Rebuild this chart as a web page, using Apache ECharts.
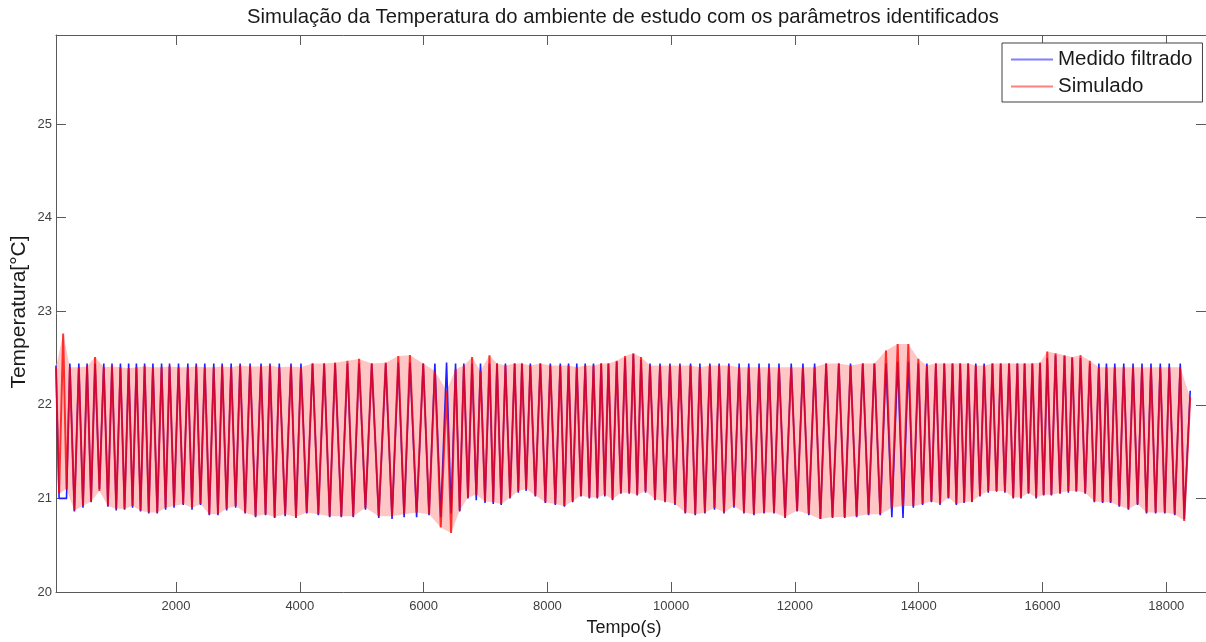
<!DOCTYPE html>
<html>
<head>
<meta charset="utf-8">
<script src="https://cdn.jsdelivr.net/npm/echarts@6/dist/echarts.min.js"></script>
<style>html,body{margin:0;padding:0;background:#fff}#c{width:1206px;height:642px}</style>
</head>
<body>
<div id="c"></div>
<script>
// ---- data ----
const xTicks = [2000, 4000, 6000, 8000, 10000, 12000, 14000, 16000, 18000];
const yTicks = [20, 21, 22, 23, 24, 25];
const startT = 60;
const endT = 18387;
const peakT = [176,284,429,562,691,832,965,1101,1234,1359,
1492,1626,1766,1895,2040,2190,2326,2464,2609,2745,
2890,3035,3196,3373,3518,3668,3857,4018,4205,4393,
4570,4769,4957,5162,5388,5591,5779,5994,6182,6371,
6516,6650,6783,6919,7064,7186,7322,7471,7589,7724,
7886,8047,8208,8342,8475,8611,8745,8869,8986,9120,
9255,9389,9513,9658,9820,9981,10142,10313,10464,10625,
10775,10932,11098,11254,11420,11581,11742,11940,12129,12318,
12504,12709,12898,13096,13284,13471,13660,13832,13994,14132,
14277,14413,14546,14670,14799,14922,15057,15191,15325,15460,
15594,15711,15836,15960,16077,16211,16356,16480,16614,16765,
16911,17033,17168,17313,17463,17608,17753,17903,18048,18226];
const troughT = [110,
230,357,496,627,762,899,1033,1168,1297,1426,
1559,1696,1831,1968,2115,2258,2395,2537,2677,2818,
2963,3116,3285,3446,3593,3763,3938,4112,4299,4482,
4670,4863,5060,5275,5490,5685,5887,6088,6277,6444,
6583,6717,6851,6992,7125,7254,7397,7530,7657,7805,
7967,8128,8275,8409,8543,8678,8807,8928,9053,9188,
9322,9451,9586,9739,9901,10062,10228,10389,10545,10700,
10854,11015,11176,11337,11501,11662,11841,12035,12224,12411,
12607,12804,12997,13190,13378,13566,13746,13913,14063,14205,
14345,14480,14608,14735,14861,14990,15124,15258,15393,15527,
15653,15774,15898,16019,16144,16284,16418,16547,16690,16838,
16972,17101,17241,17388,17536,17681,17828,17976,18137,18290];

// Medido filtrado (blue)
const medStart = 22.42, medEnd = 22.15;
const medPeaks = [21.00,22.44,22.44,22.44,22.44,22.44,22.44,22.44,22.44,22.44,
22.44,22.44,22.44,22.44,22.44,22.44,22.44,22.44,22.44,22.44,
22.44,22.44,22.44,22.44,22.44,22.44,22.44,22.44,22.44,22.44,
22.44,22.44,22.44,22.44,22.44,22.45,22.45,22.44,22.44,22.45,
22.44,22.44,22.44,22.44,22.44,22.44,22.44,22.44,22.44,22.44,
22.44,22.44,22.44,22.44,22.44,22.44,22.44,22.44,22.44,22.46,
22.50,22.54,22.48,22.44,22.44,22.44,22.44,22.44,22.44,22.44,
22.44,22.44,22.44,22.44,22.44,22.44,22.44,22.44,22.44,22.44,
22.44,22.44,22.44,22.44,22.44,22.44,22.46,22.46,22.44,22.44,
22.44,22.44,22.44,22.44,22.44,22.44,22.44,22.44,22.44,22.44,
22.44,22.44,22.44,22.44,22.50,22.53,22.52,22.50,22.50,22.44,
22.44,22.44,22.44,22.44,22.44,22.44,22.44,22.44,22.44,22.44];
const medTroughs = [21.00,
21.00,20.86,20.90,20.96,21.10,20.91,20.87,20.88,20.90,20.86,
20.84,20.84,20.88,20.90,20.93,20.88,20.93,20.82,20.82,20.87,
20.90,20.84,20.80,20.82,20.79,20.81,20.79,20.84,20.82,20.80,
20.80,20.80,20.88,20.79,20.78,20.80,20.80,20.82,20.80,20.84,
20.86,21.00,20.98,20.95,20.94,20.93,21.00,21.06,21.08,21.02,
20.95,20.93,20.91,20.96,21.02,21.00,21.00,21.02,20.98,21.05,
21.05,21.03,21.06,20.98,20.96,20.93,20.84,20.82,20.84,20.88,
20.84,20.90,20.84,20.82,20.84,20.84,20.79,20.86,20.82,20.78,
20.79,20.79,20.80,20.82,20.82,20.80,20.79,20.90,20.93,20.96,
20.93,21.00,20.93,20.95,20.96,21.02,21.06,21.07,21.06,21.00,
21.00,21.05,21.00,21.03,21.03,21.05,21.06,21.07,21.05,20.96,
20.95,20.95,20.91,20.88,20.93,20.84,20.84,20.84,20.82,20.78];

// Simulado (red)
const simStart = 22.40, simEnd = 22.08;
const simPeaks = [22.76,22.40,22.40,22.41,22.51,22.40,22.41,22.40,22.39,22.40,
22.41,22.40,22.40,22.41,22.40,22.40,22.41,22.40,22.40,22.41,
22.40,22.42,22.41,22.41,22.42,22.40,22.41,22.40,22.44,22.44,
22.45,22.47,22.49,22.44,22.45,22.52,22.53,22.44,22.36,22.15,
22.38,22.42,22.51,22.36,22.53,22.44,22.42,22.44,22.44,22.42,
22.44,22.42,22.42,22.42,22.40,22.42,22.42,22.44,22.44,22.47,
22.52,22.55,22.51,22.42,22.42,22.42,22.42,22.42,22.40,22.42,
22.42,22.42,22.40,22.40,22.40,22.40,22.40,22.40,22.40,22.40,
22.44,22.44,22.42,22.44,22.44,22.58,22.65,22.65,22.49,22.42,
22.44,22.44,22.44,22.44,22.44,22.42,22.42,22.44,22.44,22.44,
22.44,22.44,22.44,22.45,22.57,22.55,22.53,22.51,22.53,22.47,
22.40,22.40,22.40,22.40,22.40,22.40,22.40,22.40,22.40,22.40];
const simTroughs = [21.05,
21.10,20.87,20.92,20.97,21.08,20.92,20.89,20.89,20.92,20.87,
20.85,20.85,20.90,20.92,20.94,20.90,20.94,20.83,20.83,20.89,
20.92,20.85,20.81,20.83,20.80,20.83,20.80,20.85,20.83,20.81,
20.81,20.81,20.90,20.81,20.81,20.83,20.85,20.83,20.69,20.63,
20.87,21.01,21.04,20.97,20.96,20.94,21.01,21.08,21.10,21.03,
20.96,20.94,20.92,20.97,21.03,21.01,21.01,21.04,20.99,21.06,
21.06,21.04,21.08,20.99,20.97,20.94,20.85,20.83,20.85,20.90,
20.85,20.92,20.85,20.83,20.85,20.85,20.80,20.87,20.83,20.78,
20.80,20.80,20.81,20.83,20.83,20.90,20.92,20.92,20.94,20.97,
20.94,21.01,20.94,20.96,20.97,21.03,21.08,21.08,21.08,21.01,
21.01,21.06,21.01,21.04,21.04,21.06,21.08,21.08,21.06,20.97,
20.96,20.96,20.92,20.89,20.94,20.85,20.85,20.85,20.83,20.76];

// ---- build series from the arrays ----
function build(startV, peaks, troughs, endV) {
  const d = [[startT, startV]];
  for (let i = 0; i < peakT.length; i++) {
    d.push([troughT[i], troughs[i]]);
    d.push([peakT[i], peaks[i]]);
  }
  d.push([troughT[peakT.length], troughs[peakT.length]]);
  d.push([endT, endV]);
  return d;
}
const medData = build(medStart, medPeaks, medTroughs, medEnd);
const simData = build(simStart, simPeaks, simTroughs, simEnd);

const FONT = '"Liberation Sans", Arial, Helvetica, sans-serif';
const AX = '#5a5a5a';
const chart = echarts.init(document.getElementById('c'), null, {renderer: 'canvas'});
const plain = function (v) { return String(v); };
const xBase = {
  type: 'value', min: 60, max: 18642,
  splitLine: {show: false},
  axisLine: {show: true, onZero: false, lineStyle: {color: AX, width: 1}},
  axisTick: {show: true, inside: true, length: 10, lineStyle: {color: AX}, customValues: xTicks}
};
const yBase = {
  type: 'value', min: 20, max: 25.95,
  splitLine: {show: false},
  axisLine: {show: true, onZero: false, lineStyle: {color: AX, width: 1}},
  axisTick: {show: true, inside: true, length: 10, lineStyle: {color: AX}, customValues: yTicks}
};

// pale band spanned by the simulated oscillation (peaks forward, troughs back)
function bandItem(params, api) {
  const pts = [api.coord([startT, simStart])];
  for (let i = 0; i < peakT.length; i++) pts.push(api.coord([peakT[i], simPeaks[i]]));
  pts.push(api.coord([endT, simEnd]));
  for (let i = troughT.length - 1; i >= 0; i--) pts.push(api.coord([troughT[i], simTroughs[i]]));
  return {type: 'polygon', shape: {points: pts}, style: {fill: '#ffc6c6', stroke: null}, silent: true};
}

chart.setOption({
  animation: false,
  backgroundColor: '#ffffff',
  grid: {left: 56, right: -3, top: 35, bottom: 50, containLabel: false},
  xAxis: [
    Object.assign({}, xBase, {position: 'bottom',
      axisLabel: {show: true, customValues: xTicks, formatter: plain, color: '#404040', fontSize: 13, fontFamily: FONT, margin: 8}}),
    Object.assign({}, xBase, {position: 'top', axisLabel: {show: false}})
  ],
  yAxis: [
    Object.assign({}, yBase, {position: 'left',
      axisLabel: {show: true, customValues: yTicks, formatter: plain, color: '#404040', fontSize: 13, fontFamily: FONT, margin: 4}}),
    Object.assign({}, yBase, {position: 'right', axisLabel: {show: false}})
  ],
  legend: {
    data: ['Medido filtrado', 'Simulado'],
    orient: 'vertical', left: 1002, top: 43,
    backgroundColor: '#ffffff', borderColor: '#404040', borderWidth: 1, borderRadius: 0,
    padding: [3, 10, 2, 9], itemGap: 0, itemWidth: 42, itemHeight: 2, icon: 'rect',
    textStyle: {fontSize: 20.5, fontFamily: FONT, color: '#1a1a1a', lineHeight: 27}
  },
  graphic: [
    {type: 'text', x: 623, y: 17, style: {text: 'Simulação da Temperatura do ambiente de estudo com os parâmetros identificados', font: '20.3px ' + FONT, fill: '#1a1a1a', textAlign: 'center', textVerticalAlign: 'middle'}},
    {type: 'text', x: 624, y: 628, style: {text: 'Tempo(s)', font: '18px ' + FONT, fill: '#1a1a1a', textAlign: 'center', textVerticalAlign: 'middle'}},
    {type: 'text', x: 19, y: 312, rotation: Math.PI / 2, style: {text: 'Temperatura[°C]', font: '21px ' + FONT, fill: '#1a1a1a', textAlign: 'center', textVerticalAlign: 'middle'}}
  ],
  series: [
    {name: 'band', type: 'custom', coordinateSystem: 'cartesian2d', silent: true, z: 1,
      data: [[startT, simStart]], renderItem: bandItem},
    {name: 'Medido filtrado', type: 'line', data: medData, showSymbol: false, z: 2,
      lineStyle: {color: '#2020ff', width: 1.6}, itemStyle: {color: '#8080ff'}},
    {name: 'Simulado', type: 'line', data: simData, showSymbol: false, z: 3,
      lineStyle: {color: '#ff0000', width: 2, opacity: 0.78}, itemStyle: {color: '#ff8080'}}
  ]
});
</script>
</body>
</html>
